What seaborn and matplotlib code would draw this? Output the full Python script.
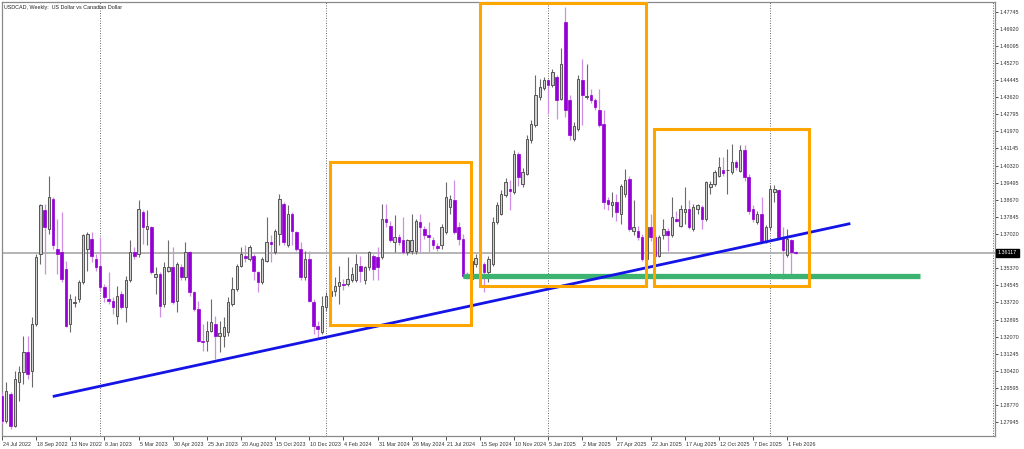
"""
USDCAD semanal: velas, línea de tendencia, soporte y zonas marcadas.
"""

import matplotlib
matplotlib.use("Agg")
import matplotlib.pyplot as plt
import matplotlib.patches as mpatches
import matplotlib.transforms as mtransforms
import pandas as pd
import seaborn as sns

# ─── Datos ──────────────────────────────────────────────────────────────────

# semana 0 = 24 Jul 2022
APERTURA = [
    1.2922, 1.2801, 1.2930, 1.2777, 1.2987, 1.3035, 1.3132, 1.3043, 1.3268, 1.3607,
    1.3816, 1.3727, 1.3872, 1.3631, 1.3615, 1.3534, 1.3268, 1.3370, 1.3389, 1.3470,
    1.3631, 1.3679, 1.3582, 1.3550, 1.3445, 1.3389, 1.3381, 1.3309, 1.3413, 1.3349,
    1.3478, 1.3614, 1.3606, 1.3808, 1.3727, 1.3735, 1.3497, 1.3510, 1.3365, 1.3526,
    1.3542, 1.3381, 1.3542, 1.3494, 1.3614, 1.3421, 1.3341, 1.3188, 1.3185, 1.3236,
    1.3268, 1.3212, 1.3212, 1.3228, 1.3365, 1.3437, 1.3550, 1.3598, 1.3582, 1.3598,
    1.3518, 1.3470, 1.3574, 1.3663, 1.3614, 1.3703, 1.3848, 1.3647, 1.3800, 1.3711,
    1.3631, 1.3494, 1.3582, 1.3373, 1.3260, 1.3228, 1.3349, 1.3405, 1.3429, 1.3453,
    1.3462, 1.3462, 1.3478, 1.3478, 1.3550, 1.3478, 1.3542, 1.3598, 1.3590, 1.3590,
    1.3776, 1.3743, 1.3663, 1.3687, 1.3671, 1.3614, 1.3622, 1.3622, 1.3759, 1.3727,
    1.3695, 1.3671, 1.3642, 1.3647, 1.3711, 1.3832, 1.3864, 1.3735, 1.3679, 1.3510,
    1.3486, 1.3558, 1.3598, 1.3558, 1.3518, 1.3558, 1.3759, 1.3800, 1.3888, 1.3920,
    1.3904, 1.4089, 1.3945, 1.3993, 1.4154, 1.4226, 1.4363, 1.4408, 1.4444, 1.4420,
    1.4460, 1.4355, 1.4725, 1.4347, 1.4162, 1.4210, 1.4444, 1.4364, 1.4371, 1.4350,
    1.4299, 1.4234, 1.3864, 1.3840, 1.3856, 1.3800, 1.3896, 1.3969, 1.3719, 1.3719,
    1.3687, 1.3582, 1.3735, 1.3687, 1.3598, 1.3695, 1.3719, 1.3695, 1.3775, 1.3743,
    1.3807, 1.3823, 1.3727, 1.3823, 1.3831, 1.3775, 1.3928, 1.3944, 1.3984, 1.4012,
    1.4009, 1.4000, 1.4049, 1.4008, 1.4105, 1.3976, 1.3823, 1.3759, 1.3800, 1.3663,
    1.3736, 1.3905, 1.3913, 1.3687, 1.3599, 1.3671, 1.3615,
]
MAXIMO = [
    1.2938, 1.2987, 1.2938, 1.3043, 1.3067, 1.3212, 1.3212, 1.3301, 1.3607, 1.3848,
    1.3848, 1.3980, 1.3880, 1.3776, 1.3808, 1.3574, 1.3413, 1.3405, 1.3478, 1.3703,
    1.3711, 1.3711, 1.3607, 1.3687, 1.3462, 1.3518, 1.3397, 1.3453, 1.3429, 1.3502,
    1.3671, 1.3639, 1.3864, 1.3816, 1.3816, 1.3743, 1.3542, 1.3518, 1.3566, 1.3671,
    1.3639, 1.3566, 1.3558, 1.3663, 1.3622, 1.3429, 1.3381, 1.3268, 1.3284, 1.3389,
    1.3309, 1.3284, 1.3301, 1.3397, 1.3494, 1.3558, 1.3639, 1.3647, 1.3647, 1.3606,
    1.3526, 1.3590, 1.3784, 1.3695, 1.3727, 1.3896, 1.3856, 1.3840, 1.3808, 1.3719,
    1.3663, 1.3620, 1.3620, 1.3389, 1.3284, 1.3405, 1.3421, 1.3542, 1.3494, 1.3550,
    1.3486, 1.3590, 1.3542, 1.3606, 1.3598, 1.3550, 1.3622, 1.3606, 1.3639, 1.3848,
    1.3848, 1.3767, 1.3792, 1.3703, 1.3784, 1.3680, 1.3800, 1.3775, 1.3800, 1.3740,
    1.3759, 1.3690, 1.3660, 1.3751, 1.3953, 1.3888, 1.3961, 1.3760, 1.3700, 1.3518,
    1.3590, 1.3606, 1.3647, 1.3566, 1.3598, 1.3784, 1.3856, 1.3912, 1.3970, 1.3961,
    1.4105, 1.4097, 1.4020, 1.4178, 1.4250, 1.4468, 1.4452, 1.4460, 1.4452, 1.4500,
    1.4468, 1.4597, 1.4798, 1.4371, 1.4240, 1.4468, 1.4548, 1.4524, 1.4403, 1.4360,
    1.4403, 1.4299, 1.3880, 1.3904, 1.3896, 1.3944, 1.4017, 1.3980, 1.3864, 1.3740,
    1.3700, 1.3759, 1.3799, 1.3700, 1.3695, 1.3775, 1.3730, 1.3880, 1.3815, 1.3840,
    1.3928, 1.3864, 1.3848, 1.3848, 1.3840, 1.3960, 1.3960, 1.4010, 1.4073, 1.4073,
    1.4113, 1.4137, 1.4060, 1.4129, 1.4129, 1.3990, 1.3840, 1.3815, 1.3880, 1.3745,
    1.3937, 1.3937, 1.3920, 1.3736, 1.3728, 1.3680, 1.3620,
]
MINIMO = [
    1.2786, 1.2793, 1.2761, 1.2769, 1.2898, 1.2979, 1.3003, 1.2962, 1.3260, 1.3558,
    1.3510, 1.3703, 1.3630, 1.3510, 1.3470, 1.3252, 1.3228, 1.3349, 1.3373, 1.3460,
    1.3526, 1.3566, 1.3526, 1.3429, 1.3373, 1.3365, 1.3317, 1.3268, 1.3341, 1.3276,
    1.3470, 1.3582, 1.3590, 1.3655, 1.3647, 1.3510, 1.3413, 1.3301, 1.3349, 1.3518,
    1.3365, 1.3325, 1.3478, 1.3478, 1.3405, 1.3333, 1.3180, 1.3139, 1.3139, 1.3228,
    1.3099, 1.3131, 1.3156, 1.3212, 1.3357, 1.3429, 1.3542, 1.3566, 1.3570, 1.3478,
    1.3421, 1.3462, 1.3566, 1.3566, 1.3606, 1.3647, 1.3647, 1.3639, 1.3647, 1.3620,
    1.3478, 1.3478, 1.3373, 1.3220, 1.3204, 1.3220, 1.3330, 1.3397, 1.3405, 1.3365,
    1.3430, 1.3450, 1.3470, 1.3470, 1.3470, 1.3462, 1.3530, 1.3478, 1.3478, 1.3582,
    1.3735, 1.3663, 1.3614, 1.3650, 1.3606, 1.3600, 1.3606, 1.3606, 1.3614, 1.3680,
    1.3614, 1.3630, 1.3620, 1.3630, 1.3700, 1.3800, 1.3700, 1.3650, 1.3490, 1.3486,
    1.3470, 1.3542, 1.3542, 1.3421, 1.3470, 1.3550, 1.3751, 1.3792, 1.3880, 1.3816,
    1.3896, 1.3936, 1.3930, 1.3985, 1.4140, 1.4218, 1.4347, 1.4395, 1.4283, 1.4411,
    1.4258, 1.4347, 1.4267, 1.4154, 1.4150, 1.4200, 1.4226, 1.4355, 1.4335, 1.4300,
    1.4218, 1.3824, 1.3820, 1.3784, 1.3767, 1.3751, 1.3880, 1.3715, 1.3695, 1.3675,
    1.3570, 1.3542, 1.3670, 1.3585, 1.3590, 1.3680, 1.3622, 1.3687, 1.3759, 1.3735,
    1.3751, 1.3727, 1.3719, 1.3800, 1.3727, 1.3767, 1.3896, 1.3936, 1.3976, 1.3984,
    1.3896, 1.3992, 1.4010, 1.4000, 1.3960, 1.3800, 1.3760, 1.3750, 1.3662, 1.3660,
    1.3720, 1.3856, 1.3680, 1.3486, 1.3590, 1.3510, 1.3605,
]
CIERRE = [
    1.2801, 1.2946, 1.2777, 1.3003, 1.3035, 1.3132, 1.3027, 1.3268, 1.3590, 1.3840,
    1.3735, 1.3883, 1.3647, 1.3607, 1.3486, 1.3260, 1.3389, 1.3376, 1.3470, 1.3695,
    1.3703, 1.3598, 1.3542, 1.3445, 1.3397, 1.3381, 1.3349, 1.3405, 1.3349, 1.3478,
    1.3614, 1.3598, 1.3824, 1.3735, 1.3743, 1.3518, 1.3507, 1.3357, 1.3542, 1.3542,
    1.3373, 1.3558, 1.3494, 1.3614, 1.3421, 1.3341, 1.3188, 1.3180, 1.3236, 1.3276,
    1.3212, 1.3223, 1.3252, 1.3373, 1.3437, 1.3550, 1.3606, 1.3587, 1.3639, 1.3526,
    1.3470, 1.3582, 1.3663, 1.3652, 1.3719, 1.3872, 1.3663, 1.3800, 1.3719, 1.3631,
    1.3494, 1.3582, 1.3381, 1.3260, 1.3244, 1.3357, 1.3405, 1.3429, 1.3453, 1.3470,
    1.3454, 1.3486, 1.3510, 1.3558, 1.3526, 1.3542, 1.3614, 1.3534, 1.3542, 1.3776,
    1.3760, 1.3671, 1.3687, 1.3663, 1.3614, 1.3671, 1.3671, 1.3767, 1.3735, 1.3695,
    1.3687, 1.3647, 1.3636, 1.3735, 1.3880, 1.3872, 1.3711, 1.3679, 1.3502, 1.3494,
    1.3574, 1.3587, 1.3566, 1.3518, 1.3582, 1.3759, 1.3840, 1.3896, 1.3953, 1.3909,
    1.4089, 1.3977, 1.4001, 1.4162, 1.4234, 1.4371, 1.4411, 1.4444, 1.4420, 1.4484,
    1.4347, 1.4524, 1.4299, 1.4178, 1.4221, 1.4452, 1.4371, 1.4367, 1.4347, 1.4315,
    1.4226, 1.3856, 1.3845, 1.3856, 1.3808, 1.3936, 1.3961, 1.3727, 1.3735, 1.3687,
    1.3582, 1.3735, 1.3687, 1.3598, 1.3687, 1.3727, 1.3695, 1.3783, 1.3767, 1.3823,
    1.3823, 1.3735, 1.3831, 1.3840, 1.3775, 1.3952, 1.3944, 1.4000, 1.4025, 1.3996,
    1.4012, 1.4049, 1.4025, 1.4105, 1.3977, 1.3815, 1.3775, 1.3799, 1.3670, 1.3736,
    1.3921, 1.3921, 1.3687, 1.3623, 1.3679, 1.3615, 1.3612,
]

PRECIO_ACTUAL = 1.36117

# Eje de precios (derecha); la etiqueta 1.36195 queda tapada por el precio actual
PRECIOS_EJE = [
    1.27945, 1.28770, 1.29595, 1.30420, 1.31245, 1.32070, 1.32895, 1.33720,
    1.34545, 1.35370, 1.36195, 1.37020, 1.37845, 1.38670, 1.39495, 1.40320,
    1.41145, 1.41970, 1.42795, 1.43620, 1.44445, 1.45270, 1.46095, 1.46920,
    1.47745,
]
PRECIO_OCULTO = 1.36195

# Eje temporal: una etiqueta cada 8 semanas
SEMANAS_EJE = [0, 8, 16, 24, 32, 40, 48, 56, 64, 72, 80, 88,
               96, 104, 112, 120, 128, 136, 144, 152, 160, 168, 176, 184]
FECHAS_EJE = [
    "24 Jul 2022", "18 Sep 2022", "13 Nov 2022", "8 Jan 2023", "5 Mar 2023",
    "30 Apr 2023", "25 Jun 2023", "20 Aug 2023", "15 Oct 2023", "10 Dec 2023",
    "4 Feb 2024", "31 Mar 2024", "26 May 2024", "21 Jul 2024", "15 Sep 2024",
    "10 Nov 2024", "5 Jan 2025", "2 Mar 2025", "27 Apr 2025", "22 Jun 2025",
    "17 Aug 2025", "12 Oct 2025", "7 Dec 2025", "1 Feb 2026",
]

# Separadores de año (primera semana de cada año) y borde derecho
SEPARADORES = [23, 76, 128, 180, 232.2]

# Dibujos del analista
TENDENCIA_X = [11.9, 198.8]
TENDENCIA_Y = [1.29186, 1.37526]
SOPORTE_X = [108.0, 215.2]
SOPORTE_Y = [1.34981, 1.34981]
# (semana inicio, semana fin, precio bajo, precio alto)
ZONAS = [
    (76.8, 110.0, 1.32615, 1.40486),
    (111.9, 151.0, 1.34513, 1.48180),
    (152.8, 189.0, 1.34498, 1.42080),
]

TITULO = "USDCAD, Weekly:  US Dollar vs Canadian Dollar"

# ─── Estilo ─────────────────────────────────────────────────────────────────

COLOR_ALCISTA = "#d0d0d0"
BORDE_ALCISTA = "#555555"
COLOR_BAJISTA = "#9400d3"
MECHA_BAJISTA = "#cf8ee6"
COLOR_ZONA = "#ffa500"
FUENTE = 3.9

sns.set_theme(style="white")
plt.rcParams["font.family"] = ["Liberation Sans", "DejaVu Sans"]

df = pd.DataFrame({"o": APERTURA, "h": MAXIMO, "l": MINIMO, "c": CIERRE})
df["semana"] = range(len(df))
sube = df["c"] >= df["o"]

fig = plt.figure(figsize=(10.24, 4.49), dpi=100)
ax = fig.add_axes([2 / 1024, 13 / 449, 993 / 1024, 434 / 449])

# ─── Velas ──────────────────────────────────────────────────────────────────

up, dn = df[sube], df[~sube]
ax.vlines(up["semana"], up["l"], up["h"], color="#6a6a6a", lw=0.8, zorder=3)
ax.vlines(dn["semana"], dn["l"], dn["h"], color=MECHA_BAJISTA, lw=0.9, zorder=3)
ax.bar(up["semana"], (up["c"] - up["o"]).clip(lower=0.00015), bottom=up["o"],
       width=0.55, color=COLOR_ALCISTA, edgecolor=BORDE_ALCISTA, linewidth=0.7,
       zorder=4)
ax.bar(dn["semana"], (dn["o"] - dn["c"]).clip(lower=0.00015), bottom=dn["c"],
       width=0.6, color=COLOR_BAJISTA, edgecolor=COLOR_BAJISTA, linewidth=0.5,
       zorder=4)

# ─── Líneas auxiliares ──────────────────────────────────────────────────────

for s in SEPARADORES:
    ax.axvline(s, color="#555555", lw=0.6, ls=(0, (1.2, 1.8)), zorder=1)
ax.axhline(PRECIO_ACTUAL, color="#a8a8a8", lw=1.2, zorder=2)

sns.lineplot(x=SOPORTE_X, y=SOPORTE_Y, ax=ax, color="#3cb371", lw=3.8,
             zorder=5, solid_capstyle="butt")
sns.lineplot(x=TENDENCIA_X, y=TENDENCIA_Y, ax=ax, color="#1414e6", lw=2.0,
             zorder=6, solid_capstyle="butt")

for x0, x1, y0, y1 in ZONAS:
    ax.add_patch(mpatches.Rectangle((x0, y0), x1 - x0, y1 - y0, fill=False,
                                    edgecolor=COLOR_ZONA, lw=2.2, zorder=6))

# ─── Ejes ───────────────────────────────────────────────────────────────────

ax.set_xlim(0.1, 232.7)
ax.set_ylim(1.2728, 1.4821)

ax.yaxis.tick_right()
ax.set_yticks(PRECIOS_EJE)
ax.set_yticklabels(["" if p == PRECIO_OCULTO else f"{p:.5f}" for p in PRECIOS_EJE])
ax.tick_params(axis="y", right=True, length=2.5, width=0.6, pad=1,
               labelsize=FUENTE, colors="#333333")

ax.set_xticks(SEMANAS_EJE)
ax.set_xticklabels(FECHAS_EJE)
ax.tick_params(axis="x", bottom=True, length=3, width=0.6, pad=1.5,
               labelsize=FUENTE, colors="#333333")
desplazar = mtransforms.ScaledTranslation(1 / 100, 0, fig.dpi_scale_trans)
for etiqueta in ax.get_xticklabels():
    etiqueta.set_horizontalalignment("left")
    etiqueta.set_transform(etiqueta.get_transform() + desplazar)

for lado in ax.spines.values():
    lado.set_color("#8a8a8a")
    lado.set_linewidth(0.9)
ax.set_xlabel("")
ax.set_ylabel("")

# Precio actual en la escala
ax.text(1.003, PRECIO_ACTUAL, f"{PRECIO_ACTUAL:.5f}",
        transform=ax.get_yaxis_transform(), fontsize=FUENTE, color="white",
        va="center", ha="left", zorder=10, clip_on=False,
        bbox=dict(boxstyle="square,pad=0.3", fc="black", ec="black"))

fig.text(4 / 1024, 1 - 7 / 449, TITULO, fontsize=FUENTE, color="#222222",
         va="center", ha="left")

fig.savefig("out.png", dpi=100)
